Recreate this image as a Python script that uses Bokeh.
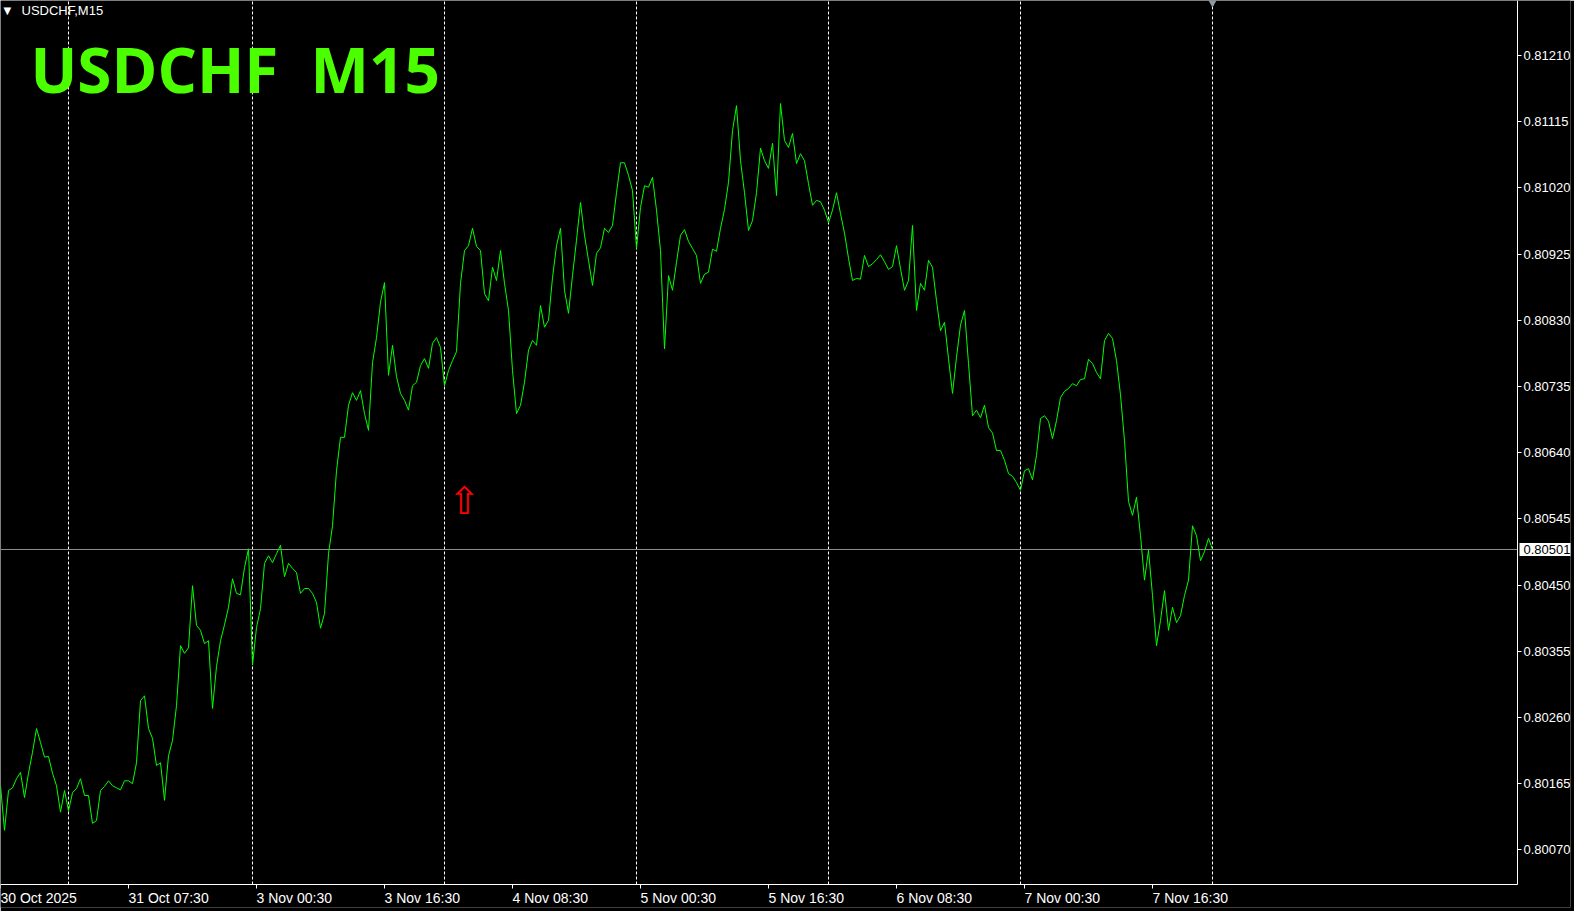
from bokeh.plotting import figure
from bokeh.models import FixedTicker, CustomJSTickFormatter, Label
from bokeh.core.properties import value
from bokeh.embed import file_html
from bokeh.resources import INLINE

symbol = "USDCHF"
timeframe = "M15"

# USDCHF M15 close, one value every 2 bars (30 Oct 15:30 -> 7 Nov close)
close = [
    0.80162, 0.80098, 0.80155, 0.80159, 0.80172, 0.80181, 0.80145, 0.80180, 0.80210, 0.80244,
    0.80224, 0.80203, 0.80204, 0.80180, 0.80162, 0.80124, 0.80155, 0.80126, 0.80152, 0.80158,
    0.80172, 0.80148, 0.80148, 0.80108, 0.80112, 0.80155, 0.80161, 0.80169, 0.80162, 0.80159,
    0.80156, 0.80169, 0.80169, 0.80165, 0.80195, 0.80284, 0.80291, 0.80244, 0.80230, 0.80191,
    0.80195, 0.80141, 0.80205, 0.80227, 0.80277, 0.80363, 0.80352, 0.80360, 0.80449, 0.80392,
    0.80385, 0.80366, 0.80370, 0.80273, 0.80333, 0.80370, 0.80393, 0.80418, 0.80459, 0.80438,
    0.80436, 0.80475, 0.80502, 0.80335, 0.80389, 0.80416, 0.80481, 0.80492, 0.80482, 0.80495,
    0.80507, 0.80462, 0.80481, 0.80474, 0.80468, 0.80438, 0.80445, 0.80445, 0.80438, 0.80425,
    0.80388, 0.80409, 0.80495, 0.80535, 0.80614, 0.80662, 0.80662, 0.80708, 0.80726, 0.80715,
    0.80729, 0.80696, 0.80672, 0.80769, 0.80805, 0.80856, 0.80884, 0.80751, 0.80794, 0.80749,
    0.80725, 0.80715, 0.80701, 0.80736, 0.80741, 0.80765, 0.80775, 0.80761, 0.80797, 0.80805,
    0.80791, 0.80736, 0.80758, 0.80772, 0.80785, 0.80883, 0.80930, 0.80937, 0.80962, 0.80936,
    0.80930, 0.80868, 0.80858, 0.80906, 0.80887, 0.80930, 0.80883, 0.80844, 0.80758, 0.80696,
    0.80708, 0.80741, 0.80787, 0.80801, 0.80794, 0.80851, 0.80820, 0.80830, 0.80891, 0.80937,
    0.80962, 0.80873, 0.80840, 0.80894, 0.80945, 0.80999, 0.80952, 0.80916, 0.80880, 0.80926,
    0.80934, 0.80962, 0.80956, 0.80966, 0.81013, 0.81056, 0.81056, 0.81038, 0.81016, 0.80933,
    0.80992, 0.81023, 0.81021, 0.81035, 0.80988, 0.80930, 0.80789, 0.80894, 0.80873, 0.80913,
    0.80952, 0.80960, 0.80943, 0.80933, 0.80923, 0.80883, 0.80896, 0.80899, 0.80932, 0.80929,
    0.80962, 0.80989, 0.81028, 0.81102, 0.81138, 0.81059, 0.81013, 0.80959, 0.80973, 0.81013,
    0.81077, 0.81059, 0.81048, 0.81084, 0.81009, 0.81141, 0.81088, 0.81078, 0.81098, 0.81055,
    0.81069, 0.81059, 0.81026, 0.80995, 0.81002, 0.81000, 0.80988, 0.80970, 0.80988, 0.81013,
    0.80983, 0.80955, 0.80919, 0.80887, 0.80890, 0.80889, 0.80923, 0.80907, 0.80911, 0.80917,
    0.80924, 0.80914, 0.80903, 0.80907, 0.80937, 0.80904, 0.80873, 0.80887, 0.80966, 0.80844,
    0.80883, 0.80873, 0.80916, 0.80906, 0.80858, 0.80815, 0.80827, 0.80775, 0.80725, 0.80777,
    0.80823, 0.80844, 0.80768, 0.80693, 0.80701, 0.80690, 0.80708, 0.80676, 0.80668, 0.80643,
    0.80643, 0.80629, 0.80610, 0.80606, 0.80597, 0.80586, 0.80614, 0.80617, 0.80601, 0.80636,
    0.80689, 0.80693, 0.80685, 0.80660, 0.80686, 0.80719, 0.80728, 0.80732, 0.80739, 0.80736,
    0.80745, 0.80746, 0.80774, 0.80768, 0.80755, 0.80746, 0.80801, 0.80811, 0.80804, 0.80772,
    0.80723, 0.80657, 0.80570, 0.80550, 0.80576, 0.80521, 0.80457, 0.80500, 0.80435, 0.80363,
    0.80399, 0.80442, 0.80385, 0.80418, 0.80396, 0.80406, 0.80435, 0.80457, 0.80535, 0.80521,
    0.80485, 0.80498, 0.80517, 0.80501,
]
bars_per_sample = 2
bars = [i * bars_per_sample for i in range(len(close))]

current_price = 0.80501

price_ticks = [0.81210, 0.81115, 0.81020, 0.80925, 0.80830, 0.80735, 0.80640,
               0.80545, 0.80450, 0.80355, 0.80260, 0.80165, 0.80070]

time_tick_bars = [0, 64, 128, 192, 256, 320, 384, 448, 512, 576]
time_tick_labels = ["30 Oct 2025", "31 Oct 07:30", "3 Nov 00:30", "3 Nov 16:30",
                    "4 Nov 08:30", "5 Nov 00:30", "5 Nov 16:30", "6 Nov 08:30",
                    "7 Nov 00:30", "7 Nov 16:30"]

day_separator_bars = [34, 126, 222, 318, 414, 510, 606]

signal_bars = [232]
signal_prices = [0.80571]

# ---- layout (terminal-style window: chart area + price/time scales) ----
X_START, X_END = 0, 785              # visible bars
Y_START, Y_END = 0.799872, 0.812889  # visible prices
AXIS_X = 758.5                       # right edge of the chart area (price scale line)
AXIS_Y = 0.800202                    # bottom edge of the chart area (time scale line)
AXIS_FONT = "Liberation Sans"

p = figure(width=1574, height=911, x_range=(X_START, X_END), y_range=(Y_START, Y_END),
           y_axis_location="right", toolbar_location=None, output_backend="svg",
           min_border_left=0, min_border_top=0, min_border_right=4, min_border_bottom=4,
           background_fill_color="black", border_fill_color="black", outline_line_color=None)

blank = CustomJSTickFormatter(code="return '';")

p.yaxis.ticker = FixedTicker(ticks=price_ticks)
p.xaxis.ticker = FixedTicker(ticks=time_tick_bars)
p.yaxis.fixed_location = AXIS_X
p.xaxis.fixed_location = AXIS_Y
p.yaxis.bounds = (AXIS_Y, Y_END)
p.xaxis.bounds = (X_START, AXIS_X)
for ax in (p.xaxis, p.yaxis):
    ax.formatter = blank
    ax.major_label_text_font_size = "0px"
    ax.major_label_standoff = 0
    ax.axis_line_color = "white"
    ax.axis_line_width = 1
    ax.major_tick_line_color = "white"
    ax.major_tick_out = 4
    ax.major_tick_in = 0
    ax.minor_tick_line_color = None

p.xgrid.grid_line_color = None
p.ygrid.grid_line_color = None

# day separators (dotted), from the time scale up to the top
p.segment(x0=day_separator_bars, y0=[AXIS_Y] * len(day_separator_bars),
          x1=day_separator_bars, y1=[Y_END] * len(day_separator_bars),
          line_color="white", line_width=1, line_dash="3 2")

# current price line (across the chart area)
p.segment(x0=[X_START], y0=[current_price], x1=[AXIS_X], y1=[current_price],
          line_color="#8e8e8e", line_width=1)

# price line
p.line(bars, close, line_color="#00ff00", line_width=1)

# signal arrow
p.text(x=signal_bars, y=signal_prices, text=["\u21e7"] * len(signal_bars),
       text_color="#ff0000", text_font=value("DejaVu Sans"), text_font_size="38px",
       text_align="center", text_baseline="middle")

# chart shift marker
p.scatter(x=[bars[-1]], y=[Y_END], marker="inverted_triangle", size=12,
          fill_color="#8c99a6", line_color=None)

# price scale labels
for t in price_ticks:
    p.add_layout(Label(x=AXIS_X, y=t, x_offset=6, text=f"{t:.5f}", text_color="white",
                       text_font=AXIS_FONT, text_font_size="13px",
                       text_align="left", text_baseline="middle"))

# current price box
p.add_layout(Label(x=AXIS_X, y=current_price, x_offset=2,
                   text=f"{current_price:.5f}", text_color="black", text_font=AXIS_FONT,
                   text_font_size="13px", text_align="left", text_baseline="middle",
                   background_fill_color="white",
                   padding=dict(left=4, right=8, top=2, bottom=2)))

# time scale labels
for b, lab in zip(time_tick_bars, time_tick_labels):
    p.add_layout(Label(x=b, y=AXIS_Y, y_offset=-5, text=lab, text_color="white",
                       text_font=AXIS_FONT, text_font_size="14px",
                       text_align="left", text_baseline="top"))

# top-left window caption
p.add_layout(Label(x=3, y=897, x_units="screen", y_units="screen", text="\u25bc",
                   text_color="white", text_font="DejaVu Sans", text_font_size="10px",
                   text_align="left", text_baseline="middle"))
p.add_layout(Label(x=21, y=897, x_units="screen", y_units="screen",
                   text=f"{symbol},{timeframe}", text_color="white", text_font=AXIS_FONT,
                   text_font_size="13px", text_align="left", text_baseline="middle"))

# big title
p.add_layout(Label(x=30, y=839, x_units="screen", y_units="screen",
                   text=f"{symbol} \u00a0{timeframe}", text_color="#4cff00",
                   text_font="Open Sans", text_font_style="bold", text_font_size="62px",
                   text_align="left", text_baseline="alphabetic"))

open("out.html", "w").write(file_html(p, INLINE))
